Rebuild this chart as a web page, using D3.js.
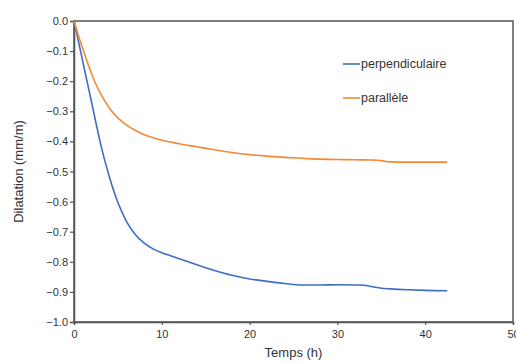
<!DOCTYPE html>
<html><head><meta charset="utf-8">
<script src="https://cdn.jsdelivr.net/npm/d3@7"></script>
<style>body{margin:0;background:#fff}svg{display:block}</style>
</head><body>
<script>
const timesPerp = [0,0.5,1,1.5,2,2.5,3,4,5,6,7,8,9,10,11,12,13,14,15,16,18,20,22,24,26,28,30,32,33,34,35,36,38,40,42.5];
const perp = [0,-0.067,-0.135,-0.202,-0.27,-0.338,-0.405,-0.515,-0.603,-0.667,-0.71,-0.738,-0.757,-0.77,-0.78,-0.79,-0.80,-0.81,-0.82,-0.829,-0.845,-0.857,-0.865,-0.872,-0.877,-0.877,-0.876,-0.877,-0.878,-0.883,-0.888,-0.890,-0.893,-0.895,-0.896];
const timesPara = [0,0.5,1,1.5,2,2.5,3,4,5,6,7,8,9,10,11,12,14,16,18,20,22,24,26,28,30,32,34,35,36,38,40,42.5];
const para = [0,-0.048,-0.092,-0.135,-0.175,-0.21,-0.24,-0.288,-0.322,-0.346,-0.364,-0.378,-0.388,-0.396,-0.402,-0.408,-0.418,-0.428,-0.437,-0.444,-0.449,-0.453,-0.456,-0.459,-0.46,-0.461,-0.462,-0.464,-0.468,-0.469,-0.469,-0.469];
const seriesNames = ["perpendiculaire","parallèle"];
const xTicks = [0,10,20,30,40,50];
const yTicks = [0,-0.1,-0.2,-0.3,-0.4,-0.5,-0.6,-0.7,-0.8,-0.9,-1.0];

const W=516,H=363;
const m={l:74,r:3,t:21,b:41};
const svg=d3.select("body").append("svg").attr("width",W).attr("height",H);
const x=d3.scaleLinear().domain([0,50]).range([m.l,W-m.r]);
const y=d3.scaleLinear().domain([-1,0]).range([H-m.b,m.t]);
const font="Liberation Sans, Arial, sans-serif";
const axisCol="#555";

// frame
svg.append("rect").attr("x",x(0)).attr("y",y(0)).attr("width",x(50)-x(0)).attr("height",y(-1)-y(0))
  .attr("fill","none").attr("stroke",axisCol).attr("stroke-width",1.5);

const xa=svg.append("g").attr("transform",`translate(0,${y(-1)})`)
  .call(d3.axisBottom(x).tickValues(xTicks).tickSize(3).tickFormat(d3.format("d")));
const ya=svg.append("g").attr("transform",`translate(${x(0)},0)`)
  .call(d3.axisLeft(y).tickValues(yTicks).tickSize(4).tickFormat(d3.format(".1f")));
[xa,ya].forEach(g=>{
  g.select(".domain").attr("stroke",axisCol).attr("stroke-width",1.5);
  g.selectAll(".tick line").attr("stroke",axisCol).attr("stroke-width",1.2);
  g.selectAll(".tick text").attr("fill","#333").style("font-family",font).style("font-size","11px");
});
xa.selectAll(".tick text").attr("dy","0.95em");
ya.selectAll(".tick text").attr("x",-6);

const line=d3.line().x(d=>x(d[0])).y(d=>y(d[1])).curve(d3.curveMonotoneX);
const colors=["#3d6ec4","#f28a33"];
svg.append("path").datum(timesPerp.map((t,i)=>[t,perp[i]])).attr("d",line)
  .attr("fill","none").attr("stroke",colors[0]).attr("stroke-width",1.6);
svg.append("path").datum(timesPara.map((t,i)=>[t,para[i]])).attr("d",line)
  .attr("fill","none").attr("stroke",colors[1]).attr("stroke-width",1.6);

// legend
const leg=[{n:seriesNames[0],c:colors[0],y:64},{n:seriesNames[1],c:colors[1],y:98}];
leg.forEach(d=>{
  svg.append("line").attr("x1",343).attr("x2",360).attr("y1",d.y).attr("y2",d.y)
    .attr("stroke",d.c).attr("stroke-width",1.6);
  svg.append("text").attr("x",361).attr("y",d.y+4).text(d.n)
    .style("font-family",font).style("font-size","12.5px").attr("fill","#333");
});

// axis titles
svg.append("text").attr("x",(x(0)+x(50))/2).attr("y",357).attr("text-anchor","middle")
  .text("Temps (h)").style("font-family",font).style("font-size","13px").attr("fill","#333");
svg.append("text").attr("transform",`translate(23,${(y(0)+y(-1))/2}) rotate(-90)`)
  .attr("text-anchor","middle").text("Dilatation  (mm/m)")
  .style("font-family",font).style("font-size","13px").attr("fill","#333");
</script>
</body></html>
